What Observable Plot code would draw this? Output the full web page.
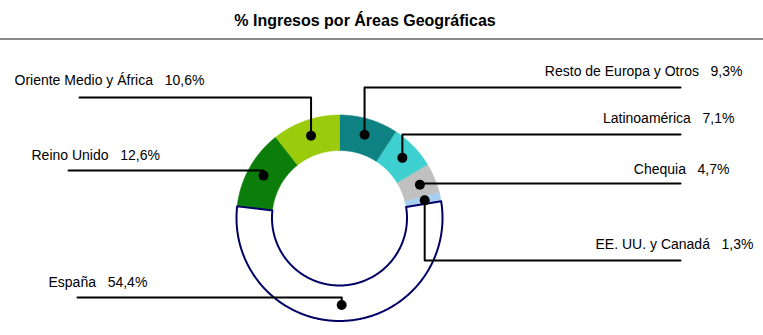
<!DOCTYPE html>
<html>
<head>
<meta charset="utf-8">
<script src="https://cdn.jsdelivr.net/npm/d3@7"></script>
<script src="https://cdn.jsdelivr.net/npm/@observablehq/plot@0.6"></script>
<style>
  html, body { margin: 0; padding: 0; background: #fff; }
  #chart svg { display: block; }
</style>
</head>
<body>
<div id="chart"></div>
<script>
// ---- Data ----
const title = "% Ingresos por Áreas Geográficas";
const categories = ["Resto de Europa y Otros", "Latinoamérica", "Chequia", "EE. UU. y Canadá", "España", "Reino Unido", "Oriente Medio y África"];
const values = [9.3, 7.1, 4.7, 1.3, 54.4, 12.6, 10.6];

// ---- Styles / layout ----
const colors = ["#0e8282", "#3ed0d0", "#c0c0c0", "#a8cff2", "#ffffff", "#0a7d0a", "#9bcc0c"];
const strokes = [null, null, null, null, "#000066", null, null];
const W = 763, H = 335;
const cx = 339, cy = 217.5, rOuter = 103, rInner = 67.5, rDot = 87;
// label layout: side, leader line y, leader line far end x, text x, text baseline
const labelSide  = ["right", "right", "right", "right", "left", "left", "left"];
const leaderY    = [87, 134, 183, 260, 297, 170, 97];
const leaderEndX = [680, 680, 680, 680, 77, 68, 79];
const textX      = [742, 734, 729, 753, 48, 31, 14];
const textBase   = [76, 123, 174, 249, 287, 160, 85];

const fmt = v => d3.format(".1f")(v).replace(".", ",") + "%";
const total = d3.sum(values);
let acc = 0;
const slices = categories.map((name, i) => {
  const a0 = acc / total * 2 * Math.PI;
  acc += values[i];
  const a1 = acc / total * 2 * Math.PI;
  return {name, value: values[i], a0, a1, i};
});
const pt = (a, r) => ({x: cx + r * Math.sin(a), y: cy - r * Math.cos(a)});

function slicePoints(s) {
  const n = Math.max(8, Math.ceil((s.a1 - s.a0) / (Math.PI / 360)));
  const pts = [];
  for (let k = 0; k <= n; k++) pts.push(pt(s.a0 + (s.a1 - s.a0) * k / n, rOuter));
  for (let k = n; k >= 0; k--) pts.push(pt(s.a0 + (s.a1 - s.a0) * k / n, rInner));
  return pts;
}

const sliceMarks = slices
  .slice()
  .sort((a, b) => (strokes[a.i] ? 1 : 0) - (strokes[b.i] ? 1 : 0))
  .map(s => Plot.line(slicePoints(s), {
    x: "x", y: "y", curve: "linear-closed",
    fill: colors[s.i],
    stroke: strokes[s.i] || colors[s.i],
    strokeWidth: strokes[s.i] ? 2 : 0.6
  }));

const dots = slices.map(s => ({...pt((s.a0 + s.a1) / 2, rDot), name: s.name}));
const leaders = [];
slices.forEach((s, i) => {
  const d = dots[i];
  leaders.push({name: s.name, x: leaderEndX[i], y: leaderY[i]});
  leaders.push({name: s.name, x: d.x, y: leaderY[i]});
  leaders.push({name: s.name, x: d.x, y: d.y});
});
const labels = slices.map((s, i) => ({
  text: s.name + "\u00a0\u00a0\u00a0" + fmt(s.value),
  x: textX[i], y: textBase[i] - 4.5,
  anchor: labelSide[i] === "right" ? "end" : "start"
}));

const chart = Plot.plot({
  width: W, height: H,
  margin: 0,
  x: {type: "identity", axis: null},
  y: {type: "identity", axis: null},
  style: {fontFamily: "Arial, 'Liberation Sans', sans-serif", background: "#fff"},
  marks: [
    Plot.text([title], {x: () => 364.5, y: () => 20, text: d => d, fontSize: 16, fontWeight: "bold", fill: "#000", textAnchor: "middle"}),
    Plot.ruleY([38.5], {stroke: "#8a8a8a", strokeWidth: 2}),
    ...sliceMarks,
    Plot.line(leaders, {x: "x", y: "y", z: "name", stroke: "#000", strokeWidth: 2}),
    Plot.dot(dots, {x: "x", y: "y", r: 5, fill: "#000", stroke: "none"}),
    Plot.text(labels.filter(d => d.anchor === "start"), {x: "x", y: "y", text: "text", textAnchor: "start", fontSize: 14, fill: "#000"}),
    Plot.text(labels.filter(d => d.anchor === "end"), {x: "x", y: "y", text: "text", textAnchor: "end", fontSize: 14, fill: "#000"})
  ]
});
document.getElementById("chart").appendChild(chart);
</script>
</body>
</html>
